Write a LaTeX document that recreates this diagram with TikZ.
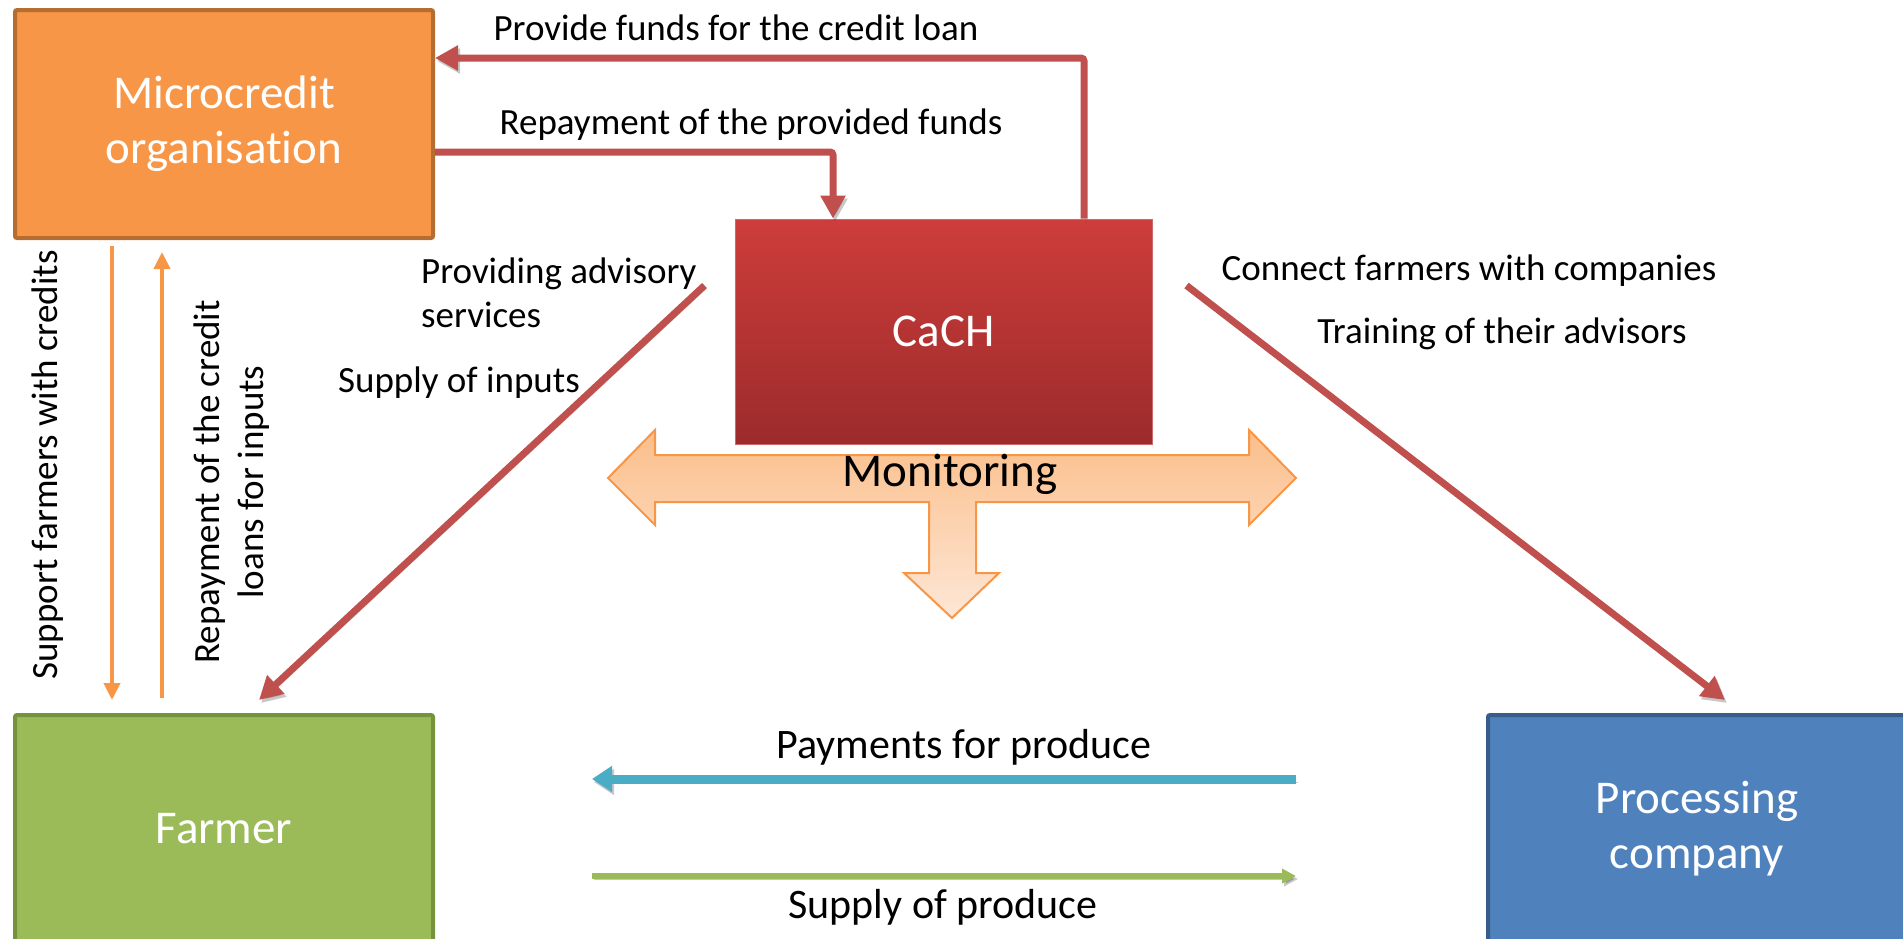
\documentclass[tikz,border=0pt]{standalone}
\usepackage{fontspec}
\setmainfont{Carlito}[Ligatures={NoCommon}]
\usetikzlibrary{arrows.meta,calc}
\definecolor{orfill}{HTML}{F79646}
\definecolor{orline}{HTML}{B66D31}
\definecolor{cachtop}{HTML}{CD3D3B}
\definecolor{cachbot}{HTML}{9C2B2B}
\definecolor{grfill}{HTML}{9BBB59}
\definecolor{grline}{HTML}{76923C}
\definecolor{blfill}{HTML}{4F81BD}
\definecolor{blline}{HTML}{385D8A}
\definecolor{redarr}{HTML}{C0504D}
\definecolor{cyanarr}{HTML}{4BACC6}
\definecolor{montop}{HTML}{FBBE8A}
\definecolor{monbot}{HTML}{FDE7D6}
\begin{document}
\begin{tikzpicture}[x=1pt,y=-1pt,
  box/.style={rectangle, rounded corners=2pt, line width=4pt, minimum width=418pt,
    minimum height=228pt, align=center, text=white, inner sep=0pt,
    font=\fontsize{47}{55}\selectfont},
  lbl/.style={font=\fontsize{37}{44}\selectfont, inner sep=0pt},
  lblb/.style={font=\fontsize{42}{50}\selectfont, inner sep=0pt},
  shad/.style={preaction={draw=black, opacity=0.22, transform canvas={xshift=2pt,yshift=-3pt}}},
  redc/.style={draw=redarr, line width=7pt, -{Triangle[length=23pt,width=24pt]}, shad},
  orc/.style={draw=orfill, line width=4pt, -{Triangle[length=17pt,width=16pt]}},
]
\useasboundingbox (0,0) rectangle (1903,938);
\clip (0,0) rectangle (1903,938);

% Monitoring block arrow
\draw[draw=orfill, line width=2pt, top color=montop, bottom color=monbot]
  (608,478) -- (655,430) -- (655,455) -- (1249,455) -- (1249,430) -- (1296,478)
  -- (1249,525) -- (1249,502) -- (976,502) -- (976,573) -- (999,573) -- (952,618)
  -- (904,573) -- (929,573) -- (929,502) -- (655,502) -- (655,525) -- cycle;

% Boxes
\node[box, fill=orfill, draw=orline] (mc) at (224,124) {Microcredit\\organisation};
\node[box, draw=redarr!85, line width=1pt, top color=cachtop, bottom color=cachbot,
  minimum width=417pt, minimum height=225pt, rounded corners=0pt] (cach) at (943.5,331.5) {CaCH};
\node[box, fill=grfill, draw=grline] (farmer) at (224,829) {Farmer};
\node[box, fill=blfill, draw=blline] (proc) at (1697,829) {Processing\\company};

% Helper coordinates
\coordinate (pfx) at (1084,0);
\coordinate (pfy) at (0,58);
\coordinate (rpx) at (833,0);
\coordinate (rpy) at (0,152);
\coordinate (sfx) at (112,0);
\coordinate (rcx) at (162,0);
\coordinate (payy) at (0,779);
\coordinate (supy) at (0,876);

% Connectors
\draw[redc, rounded corners=3pt] (cach.north -| pfx) |- (mc.east |- pfy);
\draw[redc, rounded corners=3pt] (mc.east |- rpy) -| (cach.north -| rpx);
\draw[orc, shorten <=6pt, shorten >=13pt] (mc.south -| sfx) -- (farmer.north -| sfx);
\draw[orc, shorten <=15pt, shorten >=12pt] (farmer.north -| rcx) -- (mc.south -| rcx);
\draw[redc] ([shift={(-30,-46)}]cach.west) -- ([shift={(35,-13)}]farmer.north);
\draw[redc] ([shift={(34,-46)}]cach.east) -- ([shift={(28,-13)}]proc.north);
\draw[draw=cyanarr, line width=9pt, -{Triangle[length=20pt,width=25pt]}, shad,
  shorten <=190pt, shorten >=157pt] (proc.west |- payy) -- (farmer.east |- payy);
\draw[draw=grfill, line width=6pt, -{Triangle[length=14pt,width=14pt]}, shad,
  shorten <=157pt, shorten >=190pt] (farmer.east |- supy) -- (proc.west |- supy);

% Labels
\node[lbl, anchor=base] (tpf) at (736,40) {Provide funds for the credit loan};
\node[lbl, anchor=base] (trp) at (751,134) {Repayment of the provided funds};
\node[lbl, anchor=west, align=left] (tadv) at (421,293) {Providing advisory\\services};
\node[lbl, anchor=base] (tsi) at (459,392) {Supply of inputs};
\node[lbl, anchor=base] (tcf) at (1469,280) {Connect farmers with companies};
\node[lbl, anchor=base] (ttr) at (1502,343) {Training of their advisors};
\node[lblb, anchor=base] (tpay) at (964,758) {Payments for produce};
\node[lblb, anchor=base] (tsup) at (943,918) {Supply of produce};
\node[font=\fontsize{47}{56}\selectfont, anchor=base, inner sep=0pt] (tmon) at (950,486) {Monitoring};
\node[lbl, rotate=90] (tsfc) at (48,465) {Support farmers with credits};
\node[lbl, rotate=90, align=center] (trc) at (232,482) {Repayment of the credit\\loans for inputs};
\end{tikzpicture}
\end{document}
